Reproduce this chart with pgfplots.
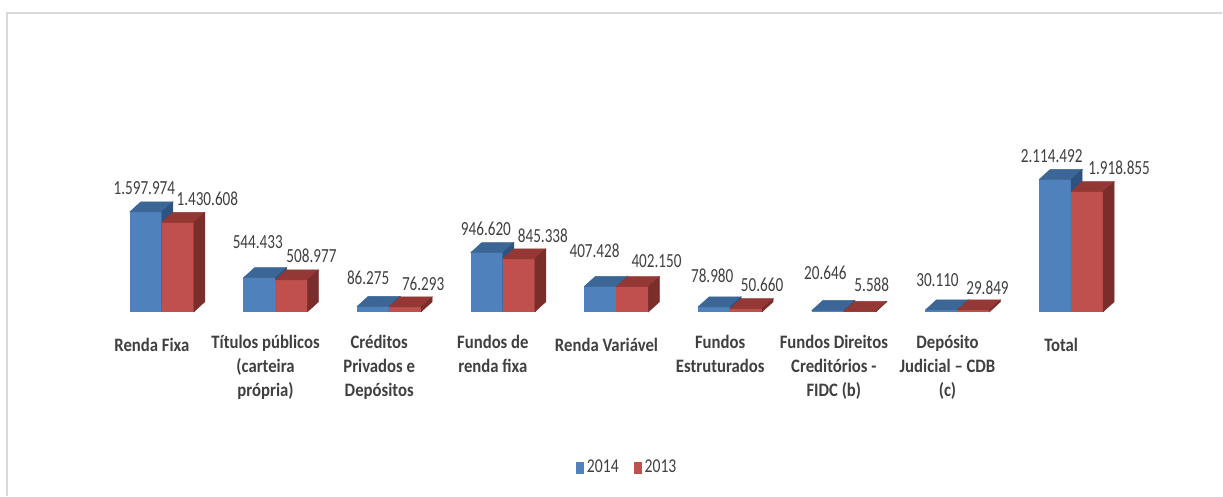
\documentclass[border=0pt]{standalone}
\usepackage{pgfplots}
\pgfplotsset{compat=1.18}
\usepackage{pgfplotstable}
\usepackage{fontspec}
\setmainfont{Carlito}

\definecolor{bF}{HTML}{4F81BD}
\definecolor{bT}{HTML}{3C6695}
\definecolor{bS}{HTML}{2E5382}
\definecolor{rF}{HTML}{C0504D}
\definecolor{rT}{HTML}{933835}
\definecolor{rS}{HTML}{7B2D2B}
\definecolor{txt}{HTML}{404040}
\definecolor{framec}{HTML}{D9D9D9}

\pgfdeclareplotmark{blank}{}

% one 3d column, drawn from the marker point (top front centre of the group)
% #1 left edge, #2 front, #3 top, #4 side colour; height in \hh
\newcommand\prism[4]{%
  \begin{pgfscope}
    \pgfsetlinewidth{0.25pt}%
    \pgfpathrectangle{\pgfpoint{#1}{-\hh}}{\pgfpoint{16pt}{\hh}}%
    \pgfsetfillcolor{#2}\pgfsetstrokecolor{#2}\pgfusepath{fill,stroke}%
    \pgfpathmoveto{\pgfpoint{#1}{0pt}}%
    \pgfpathlineto{\pgfpoint{#1+5.5pt}{5pt}}%
    \pgfpathlineto{\pgfpoint{#1+21.5pt}{5pt}}%
    \pgfpathlineto{\pgfpoint{#1+16pt}{0pt}}%
    \pgfpathclose
    \pgfsetfillcolor{#3}\pgfsetstrokecolor{#3}\pgfusepath{fill,stroke}%
    \pgfpathmoveto{\pgfpoint{#1+16pt}{0pt}}%
    \pgfpathlineto{\pgfpoint{#1+21.5pt}{5pt}}%
    \pgfpathlineto{\pgfpoint{#1+21.5pt}{5pt-\hh}}%
    \pgfpathlineto{\pgfpoint{#1+16pt}{-\hh}}%
    \pgfpathclose
    \pgfsetfillcolor{#4}\pgfsetstrokecolor{#4}\pgfusepath{fill,stroke}%
  \end{pgfscope}}

% x = category, v = value (thousands), lx/ly = where its label sits
\pgfplotstableread{
x v lx ly
0 1597.974 -0.154 1869
1 544.433 0.844 1006
2 86.275 1.815 431
3 946.620 2.851 1214
4 407.428 3.807 862
5 78.980 4.842 463
6 20.646 5.837 511
7 30.110 6.824 399
8 2114.492 7.829 2380
}\tblA

\pgfplotstableread{
x v lx ly
0 1430.608 0.400 1693
1 508.977 1.316 783
2 76.293 2.299 335
3 845.338 3.352 1102
4 402.150 4.352 703
5 50.660 5.281 319
6 5.588 6.246 319
7 29.849 7.264 272
8 1918.855 8.422 2188
}\tblB

% meta 0..2500 is mapped to 0..1000, so the height is meta*2.5*0.0313pt
\pgfplotsset{
  col3d/.style={
    forget plot, only marks, scatter, mark=blank,
    point meta=y, point meta min=0, point meta max=2500,
    scatter/@post marker code/.code={},
  },
  vlabels/.style={
    forget plot, only marks, mark=blank, point meta=explicit,
    nodes near coords={\pgfmathprintnumber[fixed,fixed zerofill,precision=3,1000 sep={.},dec sep={.},assume math mode=true]{\pgfplotspointmeta}},
    every node near coord/.append style={font=\fontsize{10}{12}\selectfont, text=txt,
      inner sep=0pt, anchor=south, yshift=0pt, xscale=0.76},
  },
}

\begin{document}
\begin{tikzpicture}
\fill[white] (0,0) rectangle (611.5pt,248pt);
\draw[framec, line width=1pt] (3.75pt,0pt) -- (3.75pt,241.5pt) -- (611.5pt,241.5pt);
\begin{axis}[
  at={(81pt,92pt)}, anchor=origin,
  x=56.875pt, y=0.0313pt,
  xmin=-1.3, xmax=9, ymin=0, ymax=2500,
  clip=false,
  axis line style={draw=none},
  ytick=\empty,
  xtick={0,...,8},
  major tick length=0pt,
  xticklabels={Renda Fixa, {Títulos públicos\\(carteira\\própria)}, {Créditos\\Privados e\\Depósitos},
    {Fundos de\\renda fixa}, Renda Variável, {Fundos\\Estruturados},
    {Fundos Direitos\\Creditórios -\\FIDC (b)}, {Depósito\\Judicial – CDB\\(c)}, Total},
  xticklabel style={font=\bfseries\fontsize{9.5}{12}\selectfont, text=txt, align=center,
    anchor=north, inner sep=0pt, xshift=-5pt, yshift=-11.5pt, xscale=0.88,
    execute at begin node=\strut},
  legend style={at={(axis cs:4.1,-2492)}, anchor=center, draw=none, fill=none,
    legend columns=2, font=\fontsize{9.8}{11}\selectfont, text=txt,
    nodes={xscale=0.8},
    /tikz/every even column/.append style={column sep=6pt}},
]
\addplot[col3d,
  scatter/@pre marker code/.code={\pgfmathsetlengthmacro\hh{\pgfplotspointmetatransformed*0.07825}\prism{-16pt}{bF}{bT}{bS}}]
  table[x=x, y=v] {\tblA};
\addplot[col3d,
  scatter/@pre marker code/.code={\pgfmathsetlengthmacro\hh{\pgfplotspointmetatransformed*0.07825}\prism{0pt}{rF}{rT}{rS}}]
  table[x=x, y=v] {\tblB};
\addplot[vlabels] table[x=lx, y=ly, meta=v] {\tblA};
\addplot[vlabels] table[x=lx, y=ly, meta=v] {\tblB};
\addlegendimage{legend image code/.code={\fill[bF] (0pt,-2.8pt) rectangle (3.4pt,2.8pt);}}
\addlegendentry{2014}
\addlegendimage{legend image code/.code={\fill[rF] (0pt,-2.8pt) rectangle (3.4pt,2.8pt);}}
\addlegendentry{2013}
\end{axis}
\useasboundingbox (0,0) rectangle (611.5pt,248pt);
\end{tikzpicture}
\end{document}
